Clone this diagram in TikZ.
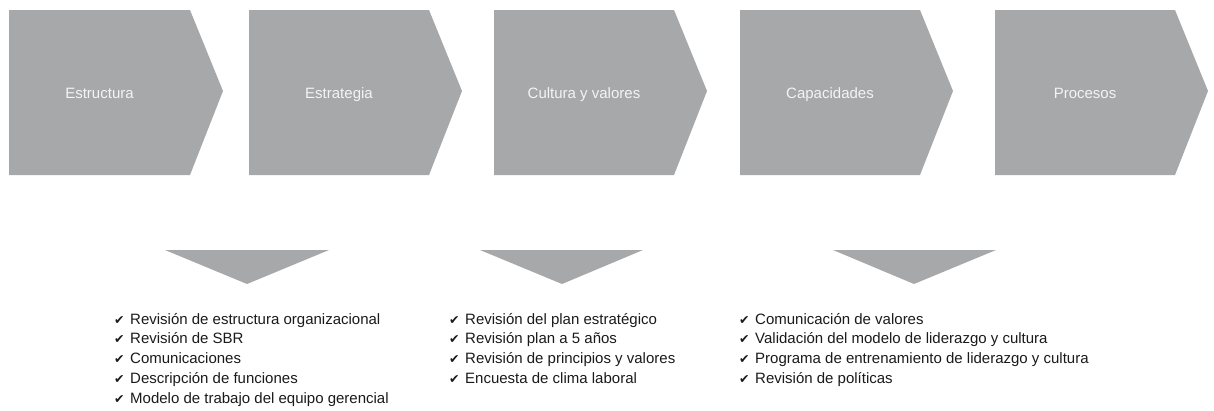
\documentclass[tikz,border=0pt]{standalone}
\usepackage{fontspec}
\setmainfont{Liberation Sans}
\newfontfamily\symfont{DejaVu Sans}
\definecolor{chevgray}{HTML}{A7A8AA}
\definecolor{labelwhite}{HTML}{F4F4F4}
\definecolor{listtext}{HTML}{1A1A1A}
\begin{document}
\begin{tikzpicture}[x=1pt,y=-1pt,
  chevron/.style={fill=chevgray},
  chevlabel/.style={anchor=base,text=labelwhite,font=\fontsize{15}{18}\selectfont,inner sep=0pt},
  funnel/.style={fill=chevgray},
  item/.style={anchor=base west,text=listtext,font=\fontsize{15}{18}\selectfont,inner sep=0pt},
  tick/.style={anchor=base west,text=listtext,font=\symfont\fontsize{12.5}{14}\selectfont,inner sep=0pt}]
\useasboundingbox (0,0) rectangle (1214,410);
% chevrons
\foreach \L/\T/\name/\txt in {9/223/c1/Estructura,249/462/c2/Estrategia,494/707/c3/Cultura y valores,740/953/c4/Capacidades,995/1208/c5/Procesos}{
  \fill[chevron] (\L,10) -- (\T-33,10) -- (\T,91) -- (\T-33,175) -- (\L,175) -- cycle;
  \node[chevlabel] (\name) at ({(\L+\T-33)/2},98.5) {\txt};
}
% funnel triangles
\fill[funnel] (165,250) -- (329,250) -- (247,284) -- cycle;
\fill[funnel] (480,250) -- (643,250) -- (562,284) -- cycle;
\fill[funnel] (833,250) -- (996,250) -- (914,284) -- cycle;
% lists
\foreach \i/\txt in {0/Revisión de estructura organizacional,1/Revisión de SBR,2/Comunicaciones,3/Descripción de funciones,4/Modelo de trabajo del equipo gerencial}{
  \node[tick] (ta\i) at (114,{324+19.8*\i}) {✔};
  \node[item] (la\i) at (130,{324+19.8*\i}) {\txt};
}
\foreach \i/\txt in {0/Revisión del plan estratégico,1/Revisión plan a 5 años,2/Revisión de principios y valores,3/Encuesta de clima laboral}{
  \node[tick] (tb\i) at (449,{324+19.8*\i}) {✔};
  \node[item] (lb\i) at (465,{324+19.8*\i}) {\txt};
}
\foreach \i/\txt in {0/Comunicación de valores,1/Validación del modelo de liderazgo y cultura,2/Programa de entrenamiento de liderazgo y cultura,3/Revisión de políticas}{
  \node[tick] (tc\i) at (739,{324+19.8*\i}) {✔};
  \node[item] (lc\i) at (755,{324+19.8*\i}) {\txt};
}
\end{tikzpicture}
\end{document}
